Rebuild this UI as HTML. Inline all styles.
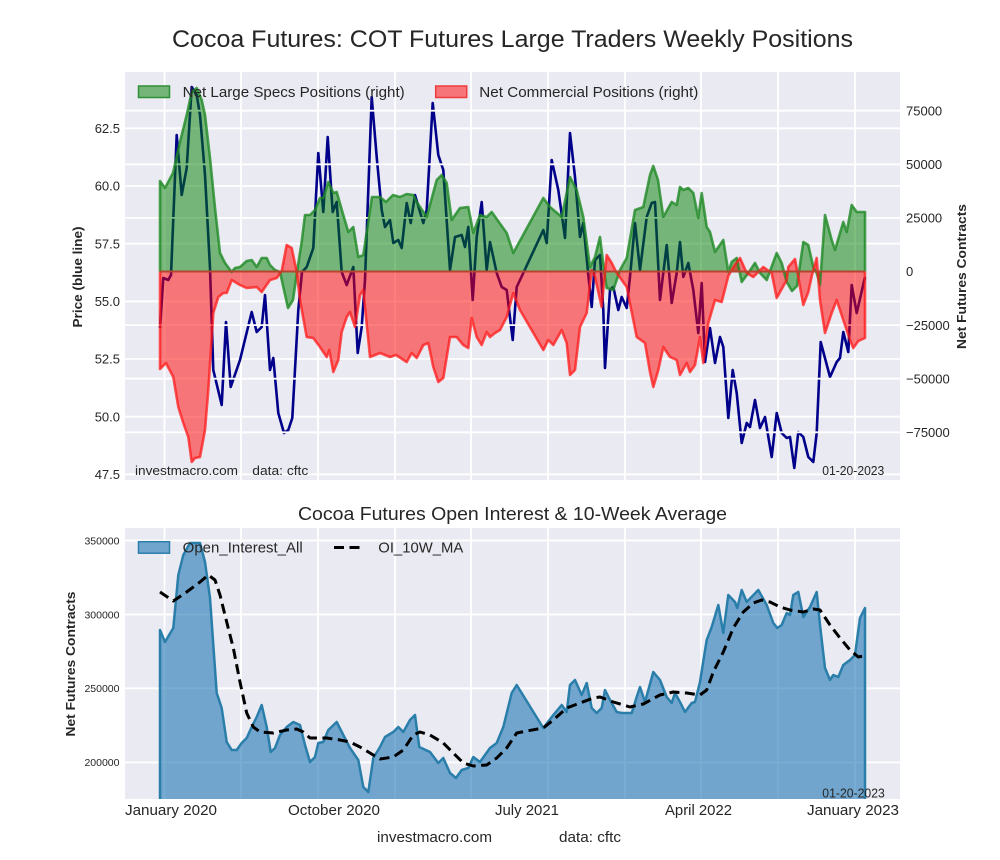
<!DOCTYPE html>
<html>
<head>
<meta charset="utf-8">
<style>
  html,body{margin:0;padding:0;background:#fff;}
  svg{display:block;}
  text{font-family:"Liberation Sans", sans-serif; fill:#262626;}
</style>
</head>
<body>
<svg width="1000" height="860" viewBox="0 0 1000 860" xmlns="http://www.w3.org/2000/svg">
  <rect x="0" y="0" width="1000" height="860" fill="#ffffff"/>

  <!-- Main title -->
  <text x="512.5" y="47" font-size="24" text-anchor="middle" textLength="681" lengthAdjust="spacingAndGlyphs">Cocoa Futures: COT Futures Large Traders Weekly Positions</text>

  <!-- ============ TOP CHART ============ -->
  <rect x="125" y="72" width="775" height="408" fill="#EAEAF2"/>
  <g stroke="#ffffff" stroke-width="1.8">
    <line x1="164.5" y1="72" x2="164.5" y2="480"/>
    <line x1="241" y1="72" x2="241" y2="480"/>
    <line x1="318" y1="72" x2="318" y2="480"/>
    <line x1="395" y1="72" x2="395" y2="480"/>
    <line x1="471" y1="72" x2="471" y2="480"/>
    <line x1="548" y1="72" x2="548" y2="480"/>
    <line x1="625" y1="72" x2="625" y2="480"/>
    <line x1="701" y1="72" x2="701" y2="480"/>
    <line x1="778" y1="72" x2="778" y2="480"/>
    <line x1="855" y1="72" x2="855" y2="480"/>
    <line x1="125" y1="128.3" x2="900" y2="128.3"/>
    <line x1="125" y1="186" x2="900" y2="186"/>
    <line x1="125" y1="243.7" x2="900" y2="243.7"/>
    <line x1="125" y1="301.3" x2="900" y2="301.3"/>
    <line x1="125" y1="359" x2="900" y2="359"/>
    <line x1="125" y1="416.7" x2="900" y2="416.7"/>
    <line x1="125" y1="474.3" x2="900" y2="474.3"/>
  </g>

  <!-- Blue price line (drawn under the fills) -->
  <polyline fill="none" stroke="#00008b" stroke-width="2.6" stroke-linejoin="round" points="160,328 163.3,278 168.3,280 171,275 176.7,135 181.7,195 186.7,168 191.7,87 196.7,95 200,115 205,175 210,268 213.3,370 221.7,405 226,322 230.7,387 240,360 251.7,312 256.7,332 261.7,327 265,295 270,370 273.3,358 278.3,413 284,433 288.3,430 292.3,418 298.3,310 302,272 306.7,267 313.3,248 318.3,153 323.3,212 327.7,137 332.7,212 336.7,202 341.7,272 346.7,285 353.3,267 357.7,353 361.7,327 365,280 371.7,97 376.7,157 381.7,210 385,227 390,220 393.3,243 398.3,240 401.7,248 406.7,203 410.7,223 415,195 423.3,223 426.7,210 432.7,103 438.3,155 443.3,170 450,270 455,237 461.7,235 465,247 468.3,227 472.7,300 476.7,237 481.7,202 486.7,270 490,242 496.7,273 501.7,287 506.7,290 512.7,340 516.7,287 523.3,273 543.3,230 546.7,243 551.7,160 558.3,190 565,238 570,133 575,177 580,237 583.3,223 588.3,275 591.7,307 595,260 600,255 603.3,310 605,368 610,290 613.3,287 618.3,310 621.7,297 626.7,308 630,277 635,223 640,270 646.7,217 651.7,203 655,202 660,300 666.7,245 671.7,303 676.7,273 680,242 683.3,277 688.3,263 693.3,290 698.3,333 701.7,283 705,362 710,328 715,363 720,337 723.3,347 728.3,418 732.7,370 736.7,393 741.7,443 746.7,423 750,427 755,400 760,428 765,417 771.7,457 776.7,413 781.7,433 786.7,438 790,437 794.3,468 798.3,432 803.3,437 808.3,457 813.3,462 816.7,433 820.7,342 830,377 836.7,362 840,358 843.3,332 848.3,352 851.7,285 856.7,313 865,277"/>

  <!-- right-axis grid -->
  <g stroke="#ffffff" stroke-width="1.8">
    <line x1="125" y1="110.7" x2="900" y2="110.7"/>
    <line x1="125" y1="164.3" x2="900" y2="164.3"/>
    <line x1="125" y1="217.9" x2="900" y2="217.9"/>
    <line x1="125" y1="325.1" x2="900" y2="325.1"/>
    <line x1="125" y1="378.7" x2="900" y2="378.7"/>
    <line x1="125" y1="432.3" x2="900" y2="432.3"/>
  </g>

  <!-- Green fill -->
  <path fill="#008000" fill-opacity="0.5" stroke="none" d="M160,271.5 L160,181 165,188 173,173 180,142 186.7,115 191.7,92 196.7,88 201.7,100 205,115 210,158 215,208 220,253 225,263 231.7,272 235,268 240,267 246.7,261 251.7,260 256.7,267 261.7,258 266.7,258 270,265 275,270 280,272 284,290 288,308 293,300 297,272 301.7,242 305,215 310,215 315,210 320,198 323.3,198 328.3,182 333.3,193 336.7,192 343.3,215 348.3,232 353.3,227 358.3,257 363.3,255 372,197 380,197 386,202 393,195 400,197 406.7,194 413.3,195 416.7,202 426.7,217 436.7,180 441.7,175 446.7,183 451.7,220 460,208 468.3,207 473.3,233 480,215 486.7,217 491.7,212 506.7,233 513.3,253 543.3,198 550,207 561.7,217 570,177 576.7,190 583.3,217 590,267 595,257 600,237 604,270 606.7,288 613.3,290 620,270 626.7,258 635,210 643.3,207 650,175 653.3,166 658,180 663.3,217 671.7,202 676.7,205 680,187 683.3,190 688.3,188 693.3,193 698.3,218 701.7,193 706.7,227 710,232 715,252 723.3,240 728.3,272 731.7,262 736.7,258 741.7,282 748.3,273 755,263 760,273 766.7,280 776.7,253 781.7,263 786.7,282 792,291 797,286 803.3,242 808.3,245 813.3,267 816.7,273 820,285 825,215 831.7,240 835,250 843.3,222 846.7,232 851.7,205 856.7,212 865,212 L865,271.5 Z"/>
  <!-- Red fill -->
  <path fill="#ff0000" fill-opacity="0.5" stroke="none" d="M160,271.5 L160,369 166,363 173.3,377 178.3,407 183.3,423 188.3,437 191.7,462 195,458 200,457 205,430 208.3,390 213.3,313 218.3,297 223.3,293 226.7,293 231.7,280 240,285 246.7,288 256.7,287 261.7,292 270,280 276.7,278 281.7,271 286.7,245 291.7,248 296.7,272 300,300 306.7,337 313.3,338 320,347 326.7,357 329.3,350 333.3,372 338.3,360 341.7,332 346.7,317 350,312 355,327 360,295 363.3,290 370,357 380,353 390,357 396,355 406.7,362 411.7,353 416.7,358 423.3,345 428.3,343 433.3,367 438.3,382 443.3,378 450,337 456.7,337 463.3,345 468.3,348 471.7,318 476.7,337 481.7,345 486.7,332 490,337 495,333 500,330 506.7,317 513.3,293 520,310 543.3,350 548.3,340 553.3,345 561.7,330 566.7,343 570,375 575,370 580,327 586.7,313 591.7,270 595,277 601.7,307 606.7,255 611.7,263 616.7,273 626.7,287 636.7,337 645,343 650,372 653.3,387 658.3,370 663.3,347 670,357 676.7,360 680,375 686.7,363 690,372 695,365 700,337 703.3,363 708.3,323 715,300 721.7,302 728.3,276 734,266 740,258 746.7,273 753.3,277 763.3,267 771.7,273 776.7,298 786.7,280 788.3,267 795,259 803.3,305 808.3,292 812,275 816.7,258 820,300 825,333 831.7,313 836.7,300 843.3,320 850,340 853.3,348 858.3,341 865,338 L865,271.5 Z"/>

  <!-- Green line -->
  <polyline fill="none" stroke="#1f8a26" stroke-opacity="0.8" stroke-width="2.6" stroke-linejoin="round" points="160,271.5 160,181 165,188 173,173 180,142 186.7,115 191.7,92 196.7,88 201.7,100 205,115 210,158 215,208 220,253 225,263 231.7,272 235,268 240,267 246.7,261 251.7,260 256.7,267 261.7,258 266.7,258 270,265 275,270 280,272 284,290 288,308 293,300 297,272 301.7,242 305,215 310,215 315,210 320,198 323.3,198 328.3,182 333.3,193 336.7,192 343.3,215 348.3,232 353.3,227 358.3,257 363.3,255 372,197 380,197 386,202 393,195 400,197 406.7,194 413.3,195 416.7,202 426.7,217 436.7,180 441.7,175 446.7,183 451.7,220 460,208 468.3,207 473.3,233 480,215 486.7,217 491.7,212 506.7,233 513.3,253 543.3,198 550,207 561.7,217 570,177 576.7,190 583.3,217 590,267 595,257 600,237 604,270 606.7,288 613.3,290 620,270 626.7,258 635,210 643.3,207 650,175 653.3,166 658,180 663.3,217 671.7,202 676.7,205 680,187 683.3,190 688.3,188 693.3,193 698.3,218 701.7,193 706.7,227 710,232 715,252 723.3,240 728.3,272 731.7,262 736.7,258 741.7,282 748.3,273 755,263 760,273 766.7,280 776.7,253 781.7,263 786.7,282 792,291 797,286 803.3,242 808.3,245 813.3,267 816.7,273 820,285 825,215 831.7,240 835,250 843.3,222 846.7,232 851.7,205 856.7,212 865,212 865,271.5"/>
  <!-- Red line -->
  <polyline fill="none" stroke="#ff1a1a" stroke-opacity="0.75" stroke-width="2.6" stroke-linejoin="round" points="160,271.5 160,369 166,363 173.3,377 178.3,407 183.3,423 188.3,437 191.7,462 195,458 200,457 205,430 208.3,390 213.3,313 218.3,297 223.3,293 226.7,293 231.7,280 240,285 246.7,288 256.7,287 261.7,292 270,280 276.7,278 281.7,271 286.7,245 291.7,248 296.7,272 300,300 306.7,337 313.3,338 320,347 326.7,357 329.3,350 333.3,372 338.3,360 341.7,332 346.7,317 350,312 355,327 360,295 363.3,290 370,357 380,353 390,357 396,355 406.7,362 411.7,353 416.7,358 423.3,345 428.3,343 433.3,367 438.3,382 443.3,378 450,337 456.7,337 463.3,345 468.3,348 471.7,318 476.7,337 481.7,345 486.7,332 490,337 495,333 500,330 506.7,317 513.3,293 520,310 543.3,350 548.3,340 553.3,345 561.7,330 566.7,343 570,375 575,370 580,327 586.7,313 591.7,270 595,277 601.7,307 606.7,255 611.7,263 616.7,273 626.7,287 636.7,337 645,343 650,372 653.3,387 658.3,370 663.3,347 670,357 676.7,360 680,375 686.7,363 690,372 695,365 700,337 703.3,363 708.3,323 715,300 721.7,302 728.3,276 734,266 740,258 746.7,273 753.3,277 763.3,267 771.7,273 776.7,298 786.7,280 788.3,267 795,259 803.3,305 808.3,292 812,275 816.7,258 820,300 825,333 831.7,313 836.7,300 843.3,320 850,340 853.3,348 858.3,341 865,338 865,271.5"/>
  <!-- zero line -->
  <line x1="160" y1="271.5" x2="865" y2="271.5" stroke="#b5452f" stroke-width="2"/>

  <!-- Legend top -->
  <rect x="138.5" y="86" width="31" height="11.5" fill="#75b579" stroke="#2f8f36" stroke-width="1.5"/>
  <text x="182.7" y="97" font-size="14.5" textLength="222" lengthAdjust="spacingAndGlyphs">Net Large Specs Positions (right)</text>
  <rect x="435.7" y="86" width="31" height="11.5" fill="#f57579" stroke="#f03c3c" stroke-width="1.5"/>
  <text x="479.3" y="97" font-size="14.5" textLength="219" lengthAdjust="spacingAndGlyphs">Net Commercial Positions (right)</text>

  <!-- annotations -->
  <text x="135" y="475" font-size="13" textLength="103" lengthAdjust="spacingAndGlyphs">investmacro.com</text>
  <text x="252.3" y="475" font-size="13" textLength="56" lengthAdjust="spacingAndGlyphs">data: cftc</text>
  <text x="822.3" y="475" font-size="12.5" textLength="62" lengthAdjust="spacingAndGlyphs">01-20-2023</text>

  <!-- Left ticks -->
  <g font-size="13" text-anchor="end">
    <text x="120" y="133">62.5</text>
    <text x="120" y="190.7">60.0</text>
    <text x="120" y="248.4">57.5</text>
    <text x="120" y="306">55.0</text>
    <text x="120" y="363.7">52.5</text>
    <text x="120" y="421.4">50.0</text>
    <text x="120" y="479">47.5</text>
  </g>
  <!-- Right ticks -->
  <g font-size="13" text-anchor="start">
    <text x="906" y="115.4">75000</text>
    <text x="906" y="169">50000</text>
    <text x="906" y="222.6">25000</text>
    <text x="906" y="276.2">0</text>
    <text x="906" y="329.8">−25000</text>
    <text x="906" y="383.4">−50000</text>
    <text x="906" y="437">−75000</text>
  </g>
  <text transform="translate(82,277) rotate(-90)" font-size="13" font-weight="bold" text-anchor="middle" textLength="101" lengthAdjust="spacingAndGlyphs" fill="#000">Price (blue line)</text>
  <text transform="translate(966,276.5) rotate(-90)" font-size="13" font-weight="bold" text-anchor="middle" textLength="145" lengthAdjust="spacingAndGlyphs" fill="#000">Net Futures Contracts</text>

  <!-- ============ BOTTOM CHART ============ -->
  <text x="512.5" y="520" font-size="18" text-anchor="middle" textLength="429" lengthAdjust="spacingAndGlyphs">Cocoa Futures Open Interest &amp; 10-Week Average</text>
  <rect x="125" y="528" width="775" height="271" fill="#EAEAF2"/>
  <g stroke="#ffffff" stroke-width="1.8">
    <line x1="164.5" y1="528" x2="164.5" y2="799"/>
    <line x1="241" y1="528" x2="241" y2="799"/>
    <line x1="318" y1="528" x2="318" y2="799"/>
    <line x1="395" y1="528" x2="395" y2="799"/>
    <line x1="471" y1="528" x2="471" y2="799"/>
    <line x1="548" y1="528" x2="548" y2="799"/>
    <line x1="625" y1="528" x2="625" y2="799"/>
    <line x1="701" y1="528" x2="701" y2="799"/>
    <line x1="778" y1="528" x2="778" y2="799"/>
    <line x1="855" y1="528" x2="855" y2="799"/>
    <line x1="125" y1="540.5" x2="900" y2="540.5"/>
    <line x1="125" y1="614.5" x2="900" y2="614.5"/>
    <line x1="125" y1="688.3" x2="900" y2="688.3"/>
    <line x1="125" y1="762.4" x2="900" y2="762.4"/>
  </g>

  <!-- OI fill -->
  <path fill="#1f77b4" fill-opacity="0.6" stroke="#2a7eaa" stroke-width="2.5" stroke-linejoin="round" d="M160,799 L160,630 165,642 173.3,628 178.3,575 183.3,555 190,543 200,543 205,562 210,598 216.7,693 221.7,708 226.7,742 231.7,750 236.7,750 241.7,743 246.7,738 251.7,727 256.7,717 261.7,705 266.7,727 270.7,752 275,748 280,735 286.7,727 293.3,722 300,725 305,745 310,762 315,757 318.3,743 323.3,742 328.3,730 336.7,722 343.3,735 350,748 358.3,760 363.3,787 368.3,792 373.3,758 380,747 385,737 393.3,732 398.3,727 403.3,732 410,720 415,715 419.3,747 430,752 438.3,763 443.3,758 450,773 456,778 461.7,770 468.3,768 473.3,757 480,762 490,748 496.7,743 503.3,727 511.7,693 516.7,685 543.3,728 553.3,715 561.7,705 566.7,712 570,685 575,680 581.7,695 586.7,683 591.7,708 596.7,713 601.7,708 605,690 610,700 616.7,712 621.7,713 631.7,713 636.7,697 640,687 645,702 653.3,672 660,680 666.7,697 671.7,703 675,693 680,702 685,712 691.7,703 695,702 700,682 706.7,640 711.7,627 718.3,605 723.3,633 728.3,595 735,602 737.3,608 741.7,590 746.7,602 758.3,590 766.7,605 773.3,623 777.3,628 781.7,625 786.7,613 790,615 793.3,595 798.3,592 803.3,617 810,607 816.7,592 820,625 825,668 830,680 833.3,675 838.3,677 843.3,665 850,660 855,655 860,618 865,608 L865,799"/>

  <!-- MA dashed -->
  <polyline fill="none" stroke="#000" stroke-width="3" stroke-dasharray="10,5.5" stroke-linejoin="round" points="160,592 173.3,601 186.7,592 200,582 208.3,575 215,580 220,595 226.7,622 233.3,648 240,682 246.7,713 253.3,727 260,732 273.3,733 286.7,730 296.7,729 303.3,732 310,738 326.7,738 340,740 350,742 360,747 370,753 380,759 393.3,757 403.3,750 413.3,735 420,732 430,735 443.3,743 453.3,753 463.3,763 473.3,766 486.7,765 496.7,758 506.7,748 516.7,733 526.7,731 543.3,728 553.3,720 566.7,708 580,703 593.3,698 600,697 613.3,702 630,707 643.3,704 660,695 673.3,692 686.7,693 700,695 706.7,690 713.3,672 723.3,652 733.3,628 743.3,612 753.3,603 761.7,600 770,602 780,607 790,610 803.3,612 813.3,609 820,610 830,625 840,638 850,650 858.3,657 863.3,656"/>

  <!-- bottom legend -->
  <rect x="138.5" y="541.7" width="31" height="11.5" fill="#70a5cd" stroke="#2a7eaa" stroke-width="1.5"/>
  <text x="182.7" y="552.5" font-size="14.5" textLength="120" lengthAdjust="spacingAndGlyphs">Open_Interest_All</text>
  <line x1="334" y1="547.5" x2="362" y2="547.5" stroke="#000" stroke-width="3" stroke-dasharray="10,5.5"/>
  <text x="378.3" y="552.5" font-size="14.5" textLength="85" lengthAdjust="spacingAndGlyphs">OI_10W_MA</text>

  <text x="822.3" y="797.5" font-size="12.5" textLength="62.5" lengthAdjust="spacingAndGlyphs">01-20-2023</text>

  <!-- bottom y ticks -->
  <g font-size="10.5" text-anchor="end">
    <text x="119.5" y="544.3">350000</text>
    <text x="119.5" y="618.3">300000</text>
    <text x="119.5" y="692.1">250000</text>
    <text x="119.5" y="766.2">200000</text>
  </g>
  <text transform="translate(75,664) rotate(-90)" font-size="13" font-weight="bold" text-anchor="middle" textLength="145" lengthAdjust="spacingAndGlyphs" fill="#000">Net Futures Contracts</text>

  <!-- x labels -->
  <g font-size="15" fill="#000">
    <text x="125" y="815" textLength="92" lengthAdjust="spacingAndGlyphs" fill="#000">January 2020</text>
    <text x="288" y="815" textLength="92" lengthAdjust="spacingAndGlyphs" fill="#000">October 2020</text>
    <text x="495" y="815" textLength="64" lengthAdjust="spacingAndGlyphs" fill="#000">July 2021</text>
    <text x="665" y="815" textLength="67" lengthAdjust="spacingAndGlyphs" fill="#000">April 2022</text>
    <text x="807" y="815" textLength="92" lengthAdjust="spacingAndGlyphs" fill="#000">January 2023</text>
  </g>

  <!-- bottom annotation -->
  <text x="377" y="842" font-size="14.5" textLength="115" lengthAdjust="spacingAndGlyphs" fill="#000">investmacro.com</text>
  <text x="559" y="842" font-size="14.5" textLength="62" lengthAdjust="spacingAndGlyphs" fill="#000">data: cftc</text>
</svg>
</body>
</html>
